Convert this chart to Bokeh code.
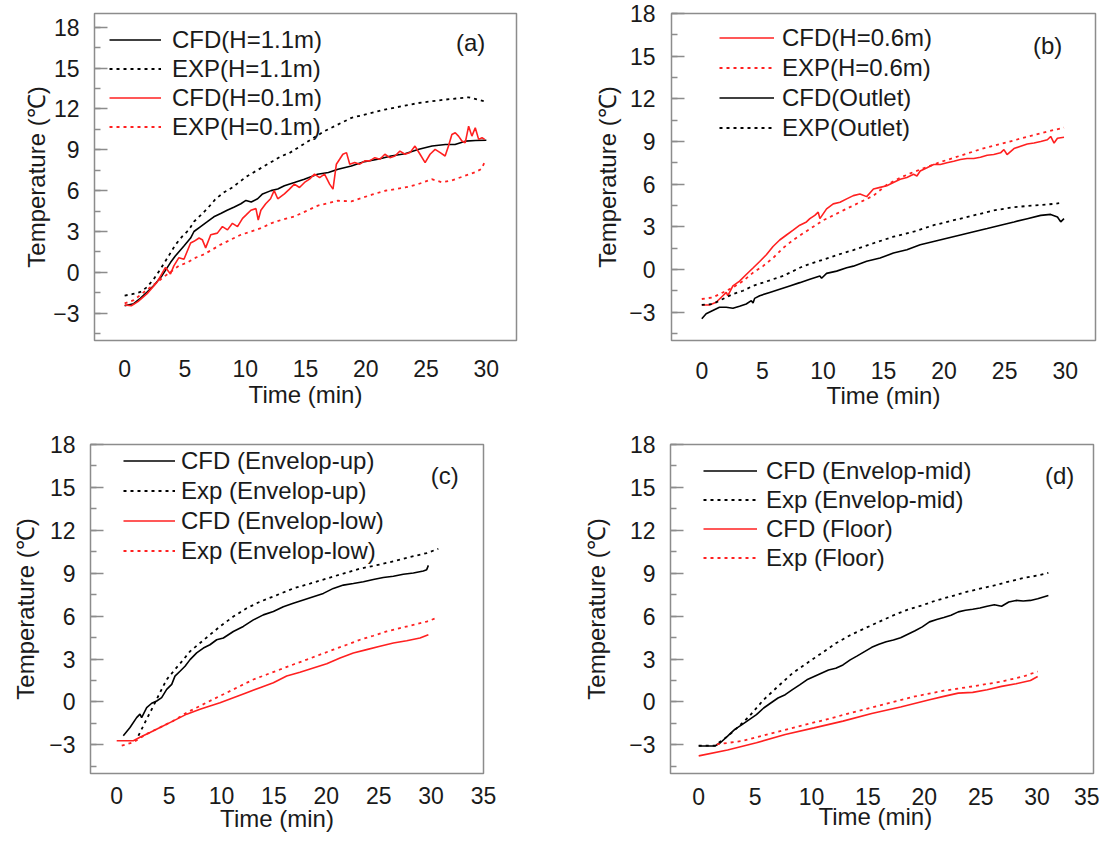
from bokeh.plotting import figure
from bokeh.models import Range1d, SingleIntervalTicker, Legend, LegendItem, Label
from bokeh.layouts import column, row
from bokeh.embed import file_html
from bokeh.resources import INLINE

# ---------------- data (time [min], temperature [degC]) ----------------
# panel (a)
a_cfd_11 = [(0, -2.45), (0.75, -2.3), (1.3, -1.9), (1.86, -1.44), (2.42, -0.96), (3.1, -0.24), (3.8, 0.72),
            (4.2, 1.2), (4.9, 1.92), (5.47, 2.52), (5.75, 3.0), (6.3, 3.36), (6.86, 3.72), (7.4, 4.08),
            (7.97, 4.32), (8.5, 4.56), (9.1, 4.8), (9.64, 5.04), (10.06, 5.28), (10.5, 5.16), (11.03, 5.4),
            (11.44, 5.76), (12.14, 6.0), (12.7, 6.12), (13.25, 6.36), (14.08, 6.6), (14.9, 6.84), (16.0, 7.2),
            (16.9, 7.33), (17.7, 7.57), (18.8, 7.81), (19.9, 8.13), (21.0, 8.3), (22.1, 8.54), (23.25, 8.71),
            (24.4, 9.03), (25.5, 9.27), (26.6, 9.39), (27.4, 9.39), (28.25, 9.63), (29.1, 9.68), (30.0, 9.7)]
a_exp_11 = [(0, -1.7), (0.61, -1.6), (1.31, -1.44), (1.86, -1.08), (2.42, -0.48), (2.97, 0.24), (3.39, 0.84),
            (3.81, 1.44), (4.22, 2.04), (4.78, 2.64), (5.33, 3.12), (5.75, 3.72), (6.31, 4.2), (6.86, 4.68),
            (7.56, 5.4), (8.25, 5.88), (8.94, 6.24), (9.64, 6.72), (10.19, 7.08), (10.89, 7.44), (11.58, 7.8),
            (12.28, 8.16), (12.97, 8.52), (13.67, 8.76), (15.0, 9.5), (16.58, 10.37), (18.81, 11.34),
            (21.58, 11.95), (24.36, 12.43), (26.58, 12.68), (28.53, 12.85), (29.86, 12.55)]
a_cfd_01 = [(0, -2.4), (0.55, -2.45), (1.1, -2.15), (1.86, -1.56), (2.69, -0.72), (3.39, 0.36), (3.8, -0.12),
            (4.08, 0.48), (4.5, 1.08), (4.92, 0.96), (5.47, 2.16), (5.75, 2.28), (6.17, 2.52), (6.44, 2.40),
            (6.72, 1.80), (7.14, 2.76), (7.69, 2.88), (8.11, 3.36), (8.53, 3.12), (8.94, 3.60), (9.36, 3.36),
            (9.78, 3.96), (10.06, 4.2), (10.47, 4.56), (10.89, 4.68), (11.08, 3.84), (11.3, 4.56), (11.7, 5.04),
            (12.1, 5.4), (12.4, 6.0), (12.7, 5.4), (13.25, 5.76), (13.67, 6.11), (14.08, 6.48), (14.5, 6.23),
            (14.92, 6.6), (15.33, 6.84), (15.75, 7.21), (16.17, 6.96), (16.58, 7.21), (17.0, 6.48),
            (17.28, 6.11), (17.56, 7.94), (17.83, 8.3), (18.1, 8.67), (18.4, 8.79), (18.67, 7.94),
            (19.08, 8.06), (19.5, 7.94), (19.92, 8.18), (20.33, 8.18), (20.75, 8.42), (21.17, 8.3),
            (21.58, 8.67), (22.0, 8.42), (22.42, 8.54), (22.83, 8.9), (23.25, 8.67), (23.67, 8.79),
            (24.08, 9.27), (24.5, 8.67), (24.92, 8.06), (25.33, 8.67), (25.75, 9.03), (26.17, 8.79),
            (26.58, 8.54), (26.86, 9.27), (27.14, 10.12), (27.42, 10.25), (27.69, 10.0), (27.97, 9.64),
            (28.25, 9.52), (28.53, 10.73), (28.8, 10.0), (29.08, 10.61), (29.36, 9.76), (29.64, 9.88),
            (29.86, 9.76)]
a_exp_01 = [(0, -2.28), (0.75, -2.04), (1.44, -1.56), (2.14, -1.08), (2.69, -0.72), (3.39, -0.24), (3.94, 0.12),
            (4.5, 0.48), (5.19, 0.72), (5.89, 1.08), (6.58, 1.32), (7.28, 1.68), (7.97, 2.04), (8.8, 2.4),
            (9.64, 2.76), (10.47, 3.0), (11.3, 3.24), (12.14, 3.6), (12.97, 3.84), (14.08, 4.1), (16.03, 4.9),
            (17.7, 5.26), (18.8, 5.21), (20.5, 5.7), (21.6, 5.99), (23.25, 6.23), (24.36, 6.48), (25.47, 6.84),
            (26.3, 6.62), (27.14, 6.75), (28.25, 7.1), (29.08, 7.35), (29.6, 7.6), (29.86, 8.1)]

# panel (b)
b_cfd_06 = [(0, -2.5), (0.64, -2.5), (1.19, -2.31), (1.74, -1.85), (2.02, -1.62), (2.15, -1.85), (2.57, -1.16),
            (3.12, -0.82), (3.67, -0.36), (4.23, 0.1), (4.78, 0.56), (5.33, 1.03), (5.88, 1.61), (6.43, 2.07),
            (6.99, 2.42), (7.54, 2.76), (8.09, 3.11), (8.64, 3.34), (8.92, 3.57), (9.33, 3.8), (9.61, 4.03),
            (9.75, 3.57), (10.3, 4.26), (10.85, 4.61), (11.41, 4.72), (11.96, 4.96), (12.51, 5.19),
            (13.06, 5.31), (13.61, 5.12), (14.17, 5.65), (14.72, 5.77), (15.27, 5.88), (15.82, 6.11),
            (16.38, 6.34), (16.93, 6.46), (17.48, 6.69), (17.76, 6.57), (18.03, 6.92), (18.59, 7.15),
            (19.14, 7.38), (19.69, 7.38), (20.24, 7.5), (20.8, 7.61), (21.35, 7.73), (21.9, 7.8), (22.45, 7.8),
            (23.0, 7.89), (23.56, 8.03), (24.1, 8.08), (24.66, 8.2), (24.94, 8.43), (25.2, 8.08), (25.77, 8.5),
            (26.32, 8.66), (26.87, 8.82), (27.42, 8.89), (27.98, 9.0), (28.53, 9.12), (28.8, 9.35),
            (29.08, 8.89), (29.36, 9.23), (29.9, 9.3)]
b_exp_06 = [(0, -2.08), (0.91, -1.97), (1.74, -1.62), (2.57, -1.27), (3.4, -0.82), (4.23, -0.23), (5.05, 0.23),
            (5.88, 0.8), (6.71, 1.5), (7.54, 2.07), (8.37, 2.54), (9.2, 3.0), (10.03, 3.46), (10.85, 3.8),
            (11.68, 4.15), (12.51, 4.5), (13.34, 4.84), (14.17, 5.19), (15.27, 5.95), (16.38, 6.45),
            (17.48, 6.85), (18.59, 7.2), (19.69, 7.55), (20.8, 7.85), (21.9, 8.15), (23.0, 8.45), (24.1, 8.7),
            (25.2, 8.95), (26.32, 9.2), (27.42, 9.45), (28.53, 9.7), (29.9, 9.97)]
b_cfd_out = [(0, -3.47), (0.36, -3.12), (0.91, -2.89), (1.46, -2.66), (2.02, -2.66), (2.57, -2.73), (3.12, -2.59),
             (3.67, -2.43), (4.09, -2.2), (4.23, -2.36), (4.36, -2.04), (4.78, -1.85), (5.61, -1.62),
             (6.43, -1.39), (7.26, -1.16), (8.09, -0.93), (8.92, -0.69), (9.75, -0.46), (9.89, -0.62),
             (10.3, -0.28), (11.13, -0.12), (11.96, 0.11), (12.51, 0.23), (13.61, 0.57), (14.72, 0.8),
             (15.82, 1.15), (16.93, 1.38), (18.03, 1.73), (19.14, 1.96), (20.24, 2.19), (21.35, 2.42),
             (22.45, 2.65), (23.56, 2.88), (24.66, 3.11), (25.77, 3.34), (26.87, 3.57), (27.98, 3.8),
             (28.8, 3.87), (29.36, 3.69), (29.63, 3.34), (29.9, 3.57)]
b_exp_out = [(0, -2.5), (0.91, -2.43), (1.74, -2.08), (2.57, -1.73), (3.4, -1.5), (4.23, -1.16), (5.05, -0.93),
             (5.88, -0.69), (6.71, -0.46), (7.54, -0.12), (8.37, 0.23), (9.2, 0.46), (10.03, 0.69),
             (10.85, 0.92), (11.68, 1.15), (12.51, 1.36), (14.17, 1.84), (15.82, 2.3), (17.48, 2.65),
             (19.14, 3.11), (20.8, 3.46), (22.45, 3.8), (24.1, 4.15), (25.77, 4.38), (27.42, 4.5),
             (29.08, 4.61), (29.5, 4.66)]

# panel (c)
c_cfd_up = [(0.63, -2.36), (1.27, -1.78), (1.9, -1.09), (2.22, -0.85), (2.38, -1.09), (2.86, -0.39),
            (3.34, -0.09), (3.82, 0.07), (4.29, 0.3), (4.77, 0.88), (5.25, 1.23), (5.56, 1.81), (6.04, 2.15),
            (6.52, 2.5), (7.0, 2.96), (7.63, 3.43), (8.27, 3.77), (8.9, 4.0), (9.54, 4.35), (10.18, 4.47),
            (11.13, 4.93), (12.08, 5.28), (13.04, 5.74), (13.99, 6.09), (14.95, 6.32), (15.9, 6.66),
            (16.85, 6.9), (17.81, 7.13), (18.76, 7.36), (19.72, 7.59), (20.67, 7.94), (21.63, 8.17),
            (22.58, 8.28), (23.54, 8.4), (24.49, 8.56), (25.44, 8.7), (26.4, 8.79), (27.35, 8.93),
            (28.31, 9.02), (29.26, 9.16), (29.58, 9.25), (29.74, 9.55)]
c_exp_up = [(2.07, -2.36), (2.86, -1.2), (3.5, -0.28), (4.13, 0.65), (4.77, 1.57), (5.56, 2.27), (6.36, 2.96),
            (7.0, 3.54), (7.95, 4.12), (8.9, 4.7), (9.86, 5.28), (11.13, 5.97), (12.4, 6.55), (13.67, 7.01),
            (15.27, 7.47), (16.86, 7.94), (18.45, 8.28), (20.04, 8.63), (21.63, 8.98), (23.22, 9.32),
            (24.81, 9.56), (26.4, 9.83), (27.99, 10.13), (29.58, 10.41), (30.69, 10.71)]
c_cfd_low = [(0, -2.71), (1.59, -2.71), (2.22, -2.47), (3.18, -2.13), (4.13, -1.78), (5.41, -1.32),
             (6.68, -0.85), (7.95, -0.51), (8.9, -0.28), (9.86, -0.05), (11.13, 0.3), (12.4, 0.65),
             (13.67, 1.0), (14.95, 1.34), (16.22, 1.81), (17.49, 2.08), (18.76, 2.38), (20.04, 2.68),
             (21.31, 3.08), (22.58, 3.43), (23.85, 3.66), (25.12, 3.89), (26.4, 4.12), (27.67, 4.28),
             (28.94, 4.47), (29.74, 4.7)]
c_exp_low = [(0.48, -3.05), (1.59, -2.82), (2.86, -2.24), (4.13, -1.78), (5.41, -1.32), (6.68, -0.74),
             (7.95, -0.28), (9.22, 0.19), (10.5, 0.65), (11.77, 1.11), (13.04, 1.57), (14.31, 1.92),
             (15.58, 2.27), (16.86, 2.62), (18.13, 2.96), (19.4, 3.31), (20.67, 3.66), (21.95, 4.0),
             (23.22, 4.35), (24.49, 4.63), (25.76, 4.93), (27.03, 5.16), (28.3, 5.39), (29.58, 5.62),
             (30.69, 5.92)]

# panel (d)
d_cfd_mid = [(0, -3.08), (1.44, -3.08), (1.92, -2.85), (2.56, -2.39), (3.2, -1.92), (3.84, -1.58), (4.48, -1.23),
             (5.12, -0.88), (5.76, -0.42), (6.39, -0.07), (7.03, 0.28), (7.67, 0.51), (8.31, 0.86), (8.95, 1.2),
             (9.59, 1.55), (10.23, 1.78), (10.87, 2.01), (11.51, 2.24), (12.15, 2.36), (12.79, 2.59),
             (13.43, 2.94), (14.06, 3.22), (14.7, 3.52), (15.34, 3.82), (15.98, 4.03), (16.62, 4.21),
             (17.26, 4.33), (17.9, 4.49), (18.54, 4.74), (19.18, 4.98), (19.82, 5.25), (20.46, 5.6),
             (21.1, 5.76), (21.73, 5.9), (22.37, 6.06), (23.01, 6.3), (23.65, 6.41), (24.29, 6.48),
             (24.93, 6.57), (25.57, 6.69), (26.21, 6.8), (26.85, 6.69), (27.49, 6.99), (28.13, 7.1),
             (28.77, 7.06), (29.41, 7.1), (30.05, 7.22), (31.0, 7.45)]
d_exp_mid = [(0, -3.05), (1.44, -3.05), (2.56, -2.4), (3.5, -1.75), (4.48, -1.0), (5.76, 0.16), (7.03, 1.09),
             (8.31, 2.01), (9.59, 2.71), (10.87, 3.4), (12.15, 4.1), (13.43, 4.67), (14.7, 5.14), (15.98, 5.6),
             (17.26, 6.06), (18.54, 6.46), (19.82, 6.76), (21.1, 7.11), (22.37, 7.38), (23.65, 7.68),
             (24.93, 7.92), (26.21, 8.15), (27.49, 8.42), (28.77, 8.66), (30.05, 8.84), (31.0, 9.03)]
d_cfd_floor = [(0, -3.77), (2.56, -3.36), (5.12, -2.85), (7.67, -2.27), (10.23, -1.81), (12.79, -1.34),
               (15.34, -0.81), (17.9, -0.35), (20.46, 0.16), (21.73, 0.39), (23.01, 0.62), (24.29, 0.67),
               (25.57, 0.86), (26.85, 1.09), (28.13, 1.27), (29.41, 1.5), (30.05, 1.78)]
d_exp_floor = [(1.6, -2.96), (3.84, -2.73), (6.39, -2.2), (8.95, -1.69), (11.51, -1.18), (14.06, -0.65),
               (16.62, -0.12), (19.18, 0.39), (21.73, 0.79), (24.29, 1.09), (26.85, 1.43), (28.77, 1.78),
               (30.05, 2.13)]

# ---------------- styling ----------------
FONT = "Liberation Sans"
BLACK = "#000000"
RED = "#ff2020"
GREY = "#8c8c8c"
TXT = "#1a1a1a"
XTITLE = "Time (min)"
YTITLE = "Temperature (℃)"
NBSP = "\u00a0"


def xy(pairs):
    return [p[0] for p in pairs], [p[1] for p in pairs]


def make_panel(cfg, series, tag, tag_pos):
    p = figure(width=cfg["w"], height=cfg["h"],
               x_range=Range1d(*cfg["xr"]), y_range=Range1d(*cfg["yr"]),
               output_backend="svg", toolbar_location=None,
               min_border_left=cfg["bl"], min_border_right=cfg["br"],
               min_border_top=cfg["bt"], min_border_bottom=cfg["bb"])
    p.background_fill_color = "white"
    p.border_fill_color = "white"
    p.outline_line_color = GREY
    p.outline_line_width = 1.5
    p.xgrid.visible = False
    p.ygrid.visible = False

    xa = p.xaxis[0]
    xa.ticker = SingleIntervalTicker(interval=5, num_minor_ticks=0)
    xa.axis_line_color = None
    xa.major_tick_in = 0
    xa.major_tick_out = 0
    xa.minor_tick_in = 0
    xa.minor_tick_out = 0
    xa.major_tick_line_color = None
    xa.minor_tick_line_color = None
    xa.major_label_text_font = FONT
    xa.major_label_text_font_size = "23px"
    xa.major_label_text_color = TXT
    xa.major_label_standoff = cfg["xls"]
    # trailing no-break spaces shift the centred title left (title is centred on 0-30 min)
    xa.axis_label = XTITLE + NBSP * cfg["pad"]
    xa.axis_label_text_font = FONT
    xa.axis_label_text_font_size = "24px"
    xa.axis_label_text_font_style = "normal"
    xa.axis_label_text_color = TXT
    xa.axis_label_standoff = cfg["xts"]

    ya = p.yaxis[0]
    ya.ticker = SingleIntervalTicker(interval=3, num_minor_ticks=2)
    ya.axis_line_color = None
    ya.major_tick_in = 13
    ya.major_tick_out = 0
    ya.minor_tick_in = 6
    ya.minor_tick_out = 0
    ya.major_tick_line_color = GREY
    ya.minor_tick_line_color = GREY
    ya.major_tick_line_width = 1.3
    ya.minor_tick_line_width = 1.3
    ya.major_label_text_font = FONT
    ya.major_label_text_font_size = "23px"
    ya.major_label_text_color = TXT
    ya.major_label_standoff = cfg["yls"]
    ya.axis_label = YTITLE
    ya.axis_label_text_font = FONT
    ya.axis_label_text_font_size = "24px"
    ya.axis_label_text_font_style = "normal"
    ya.axis_label_text_color = TXT
    ya.axis_label_standoff = cfg["yts"]

    items = []
    for label, pairs, color, dashed in series:
        t, T = xy(pairs)
        if dashed:
            r = p.line(t, T, line_color=color, line_width=1.8, line_dash="3 4")
        else:
            r = p.line(t, T, line_color=color, line_width=1.6)
        items.append(LegendItem(label=label, renderers=[r]))

    leg = Legend(items=items, location=cfg["legloc"],
                 label_text_font=FONT, label_text_font_size="24px", label_text_color=TXT,
                 glyph_width=cfg["gw"], glyph_height=29, label_height=29,
                 label_standoff=cfg["gs"], spacing=cfg["sp"], padding=0, margin=0,
                 border_line_alpha=0, background_fill_alpha=0)
    p.add_layout(leg)

    p.add_layout(Label(x=tag_pos[0], y=tag_pos[1], text=tag, text_font=FONT, text_font_size="24px",
                       text_color=TXT, text_align="center", text_baseline="middle"))
    return p


cfg_a = dict(w=555, h=420, bl=94, br=39, bt=10, bb=80, xr=(-2.5, 32.5), yr=(-5, 19),
             xls=19, xts=1, yls=15, yts=0, legloc=(15, 199), gw=52, gs=11, sp=0, pad=0)
cfg_b = dict(w=544, h=420, bl=116, br=4, bt=13, bb=77, xr=(-2.5, 32.5), yr=(-5, 18),
             xls=21, xts=0, yls=16, yts=5, legloc=(48, 198), gw=55, gs=8, sp=1, pad=0)
cfg_c = dict(w=555, h=417, bl=90, br=72, bt=22, bb=64, xr=(-2.5, 35), yr=(-5, 18),
             xls=13, xts=-2, yls=15, yts=7, legloc=(33, 208), gw=52, gs=6, sp=1, pad=3)
cfg_d = dict(w=544, h=417, bl=115, br=6, bt=24, bb=62, xr=(-2.5, 35), yr=(-5, 18),
             xls=14, xts=-5, yls=15, yts=16, legloc=(33, 201), gw=54, gs=9, sp=0, pad=2)

pa = make_panel(cfg_a, [("CFD(H=1.1m)", a_cfd_11, BLACK, False),
                        ("EXP(H=1.1m)", a_exp_11, BLACK, True),
                        ("CFD(H=0.1m)", a_cfd_01, RED, False),
                        ("EXP(H=0.1m)", a_exp_01, RED, True)], "(a)", (28.7, 16.85))
pb = make_panel(cfg_b, [("CFD(H=0.6m)", b_cfd_06, RED, False),
                        ("EXP(H=0.6m)", b_exp_06, RED, True),
                        ("CFD(Outlet)", b_cfd_out, BLACK, False),
                        ("EXP(Outlet)", b_exp_out, BLACK, True)], "(b)", (28.55, 15.77))
pc = make_panel(cfg_c, [("CFD (Envelop-up)", c_cfd_up, BLACK, False),
                        ("Exp (Envelop-up)", c_exp_up, BLACK, True),
                        ("CFD (Envelop-low)", c_cfd_low, RED, False),
                        ("Exp (Envelop-low)", c_exp_low, RED, True)], "(c)", (31.3, 15.83))
pd_ = make_panel(cfg_d, [("CFD (Envelop-mid)", d_cfd_mid, BLACK, False),
                         ("Exp (Envelop-mid)", d_exp_mid, BLACK, True),
                         ("CFD (Floor)", d_cfd_floor, RED, False),
                         ("Exp (Floor)", d_exp_floor, RED, True)], "(d)", (32.0, 15.8))

layout = column(row(pa, pb), row(pc, pd_))
open("out.html", "w").write(file_html(layout, INLINE))
